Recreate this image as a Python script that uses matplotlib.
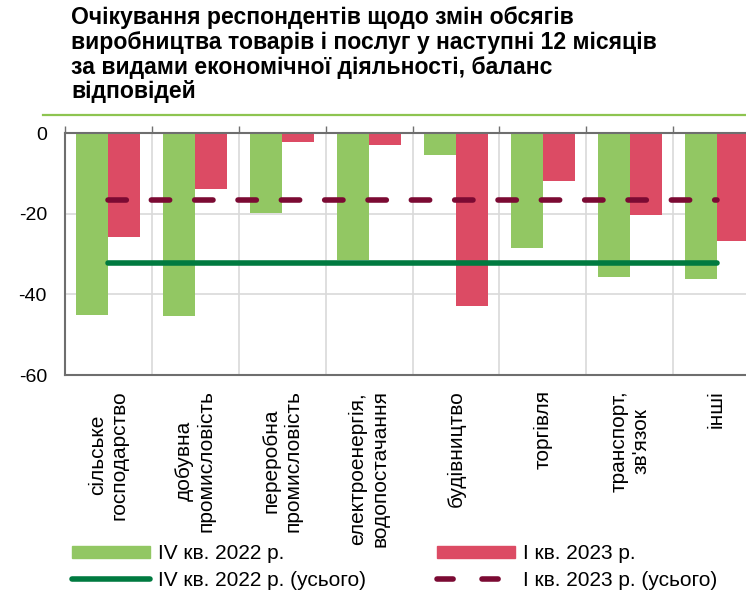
import matplotlib
matplotlib.use("Agg")
import matplotlib.pyplot as plt
from matplotlib.lines import Line2D
from matplotlib.patches import Patch
import numpy as np

plt.rcParams['font.family'] = ['Liberation Sans', 'DejaVu Sans']

categories = ["сільське\nгосподарство", "добувна\nпромисловість", "переробна\nпромисловість",
              "електроенергія,\nводопостачання", "будівництво", "торгівля",
              "транспорт,\nзв'язок", "інші"]
q4_2022 = [-45.1, -45.3, -19.9, -31.5, -5.5, -28.5, -35.7, -36.2]
q1_2023 = [-25.7, -13.8, -2.3, -2.9, -42.8, -12.0, -20.4, -26.8]
q4_2022_total = -32.3
q1_2023_total = -16.6

title = ("Очікування респондентів щодо змін обсягів\n"
         "виробництва товарів і послуг у наступні 12 місяців\n"
         "за видами економічної діяльності, баланс\n"
         "відповідей")

c_green = "#92C763"
c_red = "#DC4B64"
c_dgreen = "#007A40"
c_dred = "#7B0A33"

W, H = 746, 593
fig = plt.figure(figsize=(W / 100, H / 100), dpi=100)
ax = fig.add_axes([65 / W, (H - 375) / H, 695 / W, 242 / H])

x = np.arange(len(categories))
bw = 0.368
ax.bar(x - bw / 2, q4_2022, width=bw, color=c_green, zorder=2)
ax.bar(x + bw / 2, q1_2023, width=bw, color=c_red, zorder=2)

# average lines over all activities
ax.plot(x, [q4_2022_total] * len(x), color=c_dgreen, lw=4,
        solid_capstyle='round', zorder=3)
ax.plot(x, [q1_2023_total] * len(x), color=c_dred, lw=4,
        dashes=(3.3, 4.5), dash_capstyle='round', zorder=3)

ax.set_xlim(-0.5, 7.5)
ax.set_ylim(-60, 0)
ax.set_yticks([0, -20, -40, -60])
ax.set_yticklabels(["0", "-20", "-40", "-60"], fontsize=14)
ax.tick_params(axis='y', length=0, pad=13)

ax.set_xticks(x)
ax.set_xticklabels(categories, rotation=90, fontsize=15, va='top',
                   ha='center', multialignment='center', linespacing=1.2)
ax.tick_params(axis='x', which='major', length=0, pad=11)
ax.set_xticks(np.arange(-0.5, 8, 1), minor=True)
ax.tick_params(axis='x', which='minor', top=True, bottom=False,
               direction='out', length=5, color='#707070', width=1)

ax.grid(axis='y', color='#D9D9D9', lw=1.2, zorder=0)
ax.grid(axis='x', which='minor', color='#D9D9D9', lw=1.2, zorder=0)
ax.set_axisbelow(True)

for s in ['top', 'bottom', 'left']:
    ax.spines[s].set_color('#6E6E6E')
    ax.spines[s].set_linewidth(1.5)
ax.spines['right'].set_visible(False)

fig.text(71 / W, 1 - 6 / H, title, ha='left', va='top', fontsize=16.6,
         fontweight='bold', linespacing=1.1)
fig.add_artist(Line2D([43 / W, 1], [1 - 115 / H] * 2, color="#8DC450",
                      lw=1.6, transform=fig.transFigure))

handles = [
    Patch(color=c_green),
    Line2D([], [], color=c_dgreen, lw=4, solid_capstyle='round'),
    Patch(color=c_red),
    Line2D([], [], color=c_dred, lw=4, dashes=(2.9, 5.2), dash_capstyle='round'),
]
labels = ["IV кв. 2022 р.", "IV кв. 2022 р. (усього)", "І кв. 2023 р.", "І кв. 2023 р. (усього)"]
fig.legend(handles, labels, ncol=2, loc='upper left', frameon=False,
           bbox_to_anchor=(72 / W, 1 - 544 / H), fontsize=15,
           handlelength=3.75, handleheight=0.5, handletextpad=0.38,
           columnspacing=3.4, labelspacing=0.36, borderaxespad=0, borderpad=0)

fig.savefig("out.png", dpi=100)
